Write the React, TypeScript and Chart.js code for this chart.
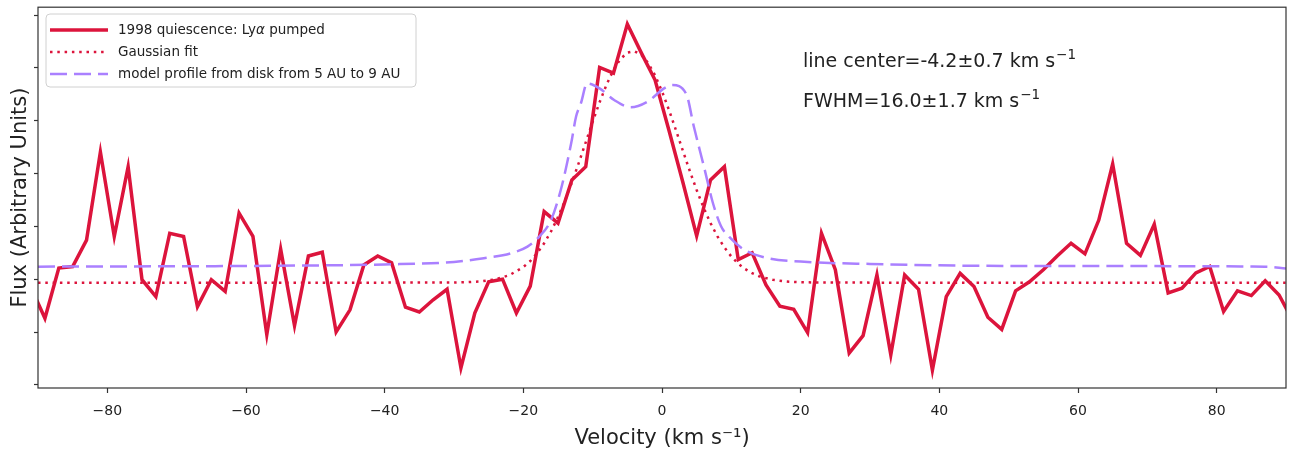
import React, { useEffect, useRef } from "react";
import { Chart, registerables } from "chart.js";

Chart.register(...registerables);

// ---- data ----
const VELOCITY = [
  -91, -89, -87, -85, -83, -81, -79, -77, -75, -73, -71, -69, -67, -65, -63, -61,
  -59, -57, -55, -53, -51, -49, -47, -45, -43, -41, -39, -37, -35, -33, -31, -29,
  -27, -25, -23, -21, -19, -17, -15, -13, -11, -9, -7, -5, -3, -1, 1, 3, 5, 7, 9,
  11, 13, 15, 17, 19, 21, 23, 25, 27, 29, 31, 33, 35, 37, 39, 41, 43, 45, 47, 49,
  51, 53, 55, 57, 59, 61, 63, 65, 67, 69, 71, 73, 75, 77, 79, 81, 83, 85, 87, 89, 91,
];
const FLUX = [
  1.84, 1.26, 2.21, 2.24, 2.74, 4.41, 2.81, 4.13, 1.99, 1.67, 2.87, 2.81, 1.48, 1.99, 1.77, 3.25,
  2.81, 0.95, 2.57, 1.12, 2.44, 2.51, 1.0, 1.42, 2.27, 2.44, 2.31, 1.47, 1.38, 1.61, 1.81, 0.32,
  1.36, 1.95, 2.0, 1.36, 1.87, 3.28, 3.06, 3.88, 4.13, 6.01, 5.9, 6.83, 6.29, 5.77, 4.82, 3.84, 2.82, 3.88, 4.13,
  2.37, 2.5, 1.89, 1.49, 1.43, 0.99, 2.87, 2.18, 0.6, 0.93, 2.08, 0.57, 2.08, 1.81, 0.28, 1.67, 2.11, 1.86, 1.28, 1.05,
  1.78, 1.95, 2.18, 2.44, 2.68, 2.48, 3.12, 4.18, 2.68, 2.45, 3.04, 1.74, 1.83, 2.12, 2.24, 1.39, 1.78, 1.69, 1.97, 1.7, 1.21,
];

const GAUSS_V = [
  -90, -40, -30, -28, -26, -24, -22,
  -20, -19, -18, -17, -16, -15, -14, -13, -12, -11, -10, -9, -8, -7, -6, -5, -4, -3, -2, -1,
  0, 1, 2, 3, 4, 5, 6, 7, 8, 9, 10, 11, 12, 13, 14,
  16, 18, 20, 22, 30, 90,
];
const GAUSS_F = [
  1.935, 1.935, 1.938, 1.945, 1.96, 1.998, 2.077,
  2.229, 2.344, 2.493, 2.679, 2.906, 3.175, 3.485, 3.831, 4.204, 4.592, 4.981, 5.351, 5.684, 5.962, 6.168, 6.289, 6.317, 6.251, 6.095, 5.859,
  5.557, 5.206, 4.826, 4.436, 4.052, 3.688, 3.356, 3.062, 2.81, 2.6, 2.429, 2.294, 2.191, 2.113, 2.056,
  1.988, 1.956, 1.943, 1.938, 1.935, 1.935,
];

const MODEL_V = [
  -90, -60, -40, -30, -25.7, -21.8, -19.4, -17.7, -16, -14.6, -13.1, -12.4, -11.7, -10.8,
  -9.0, -6.9, -4.5, -2.1, 0.3, 1.5, 3.5, 4.6, 6.1, 7.3, 8.5, 9.7, 11.9, 15.3, 20, 30, 50, 87, 90,
];
const MODEL_F = [
  2.238, 2.251, 2.28, 2.327, 2.397, 2.491, 2.616, 2.806, 3.121, 3.689, 4.572, 5.076, 5.329, 5.708,
  5.613, 5.392, 5.254, 5.359, 5.613, 5.675, 5.505, 4.887, 4.105, 3.462, 3.008, 2.8, 2.554, 2.397, 2.333, 2.289, 2.251, 2.238, 2.204,
];

const X_TICKS = [-80, -60, -40, -20, 0, 20, 40, 60, 80];
const Y_TICKS = [0, 1, 2, 3, 4, 5, 6, 7];

const SERIES_LABELS = [
  "1998 quiescence: Lyα pumped",
  "Gaussian fit",
  "model profile from disk from 5 AU to 9 AU",
];
const ANNOTATIONS = [
  ["line center=-4.2±0.7 km s", "−1"],
  ["FWHM=16.0±1.7 km s", "−1"],
];
const X_TITLE = "Velocity (km s⁻¹)";
const Y_TITLE = "Flux (Arbitrary Units)";

const FONT = '"DejaVu Sans", sans-serif';
const RED = "rgb(220,20,60)";
const PURPLE = "rgb(170,128,255)";
const TEXT = "#222";

const overlay = {
  id: "overlay",
  afterDraw(chart: any) {
    const { ctx, chartArea: a } = chart;
    ctx.save();
    // frame (spines)
    ctx.strokeStyle = "#333";
    ctx.lineWidth = 1.2;
    ctx.setLineDash([]);
    ctx.strokeRect(a.left, a.top, a.right - a.left, a.bottom - a.top);

    // legend
    const lx = 46, ly = 14, lw = 370, lh = 73, r = 4;
    ctx.beginPath();
    ctx.moveTo(lx + r, ly);
    ctx.lineTo(lx + lw - r, ly);
    ctx.quadraticCurveTo(lx + lw, ly, lx + lw, ly + r);
    ctx.lineTo(lx + lw, ly + lh - r);
    ctx.quadraticCurveTo(lx + lw, ly + lh, lx + lw - r, ly + lh);
    ctx.lineTo(lx + r, ly + lh);
    ctx.quadraticCurveTo(lx, ly + lh, lx, ly + lh - r);
    ctx.lineTo(lx, ly + r);
    ctx.quadraticCurveTo(lx, ly, lx + r, ly);
    ctx.closePath();
    ctx.fillStyle = "rgba(255,255,255,0.85)";
    ctx.fill();
    ctx.strokeStyle = "#d0d0d0";
    ctx.lineWidth = 1;
    ctx.stroke();

    const rows = [30, 52, 74];
    chart.data.datasets.forEach((ds: any, i: number) => {
      const y = rows[i];
      ctx.beginPath();
      ctx.strokeStyle = ds.borderColor;
      ctx.lineWidth = ds.borderWidth;
      ctx.setLineDash(ds.borderDash || []);
      ctx.lineCap = "butt";
      ctx.moveTo(50, y);
      ctx.lineTo(108, y);
      ctx.stroke();
      ctx.setLineDash([]);
      ctx.fillStyle = TEXT;
      ctx.textBaseline = "middle";
      const label: string = ds.label;
      const parts = label.split("α");
      let x = 118;
      parts.forEach((p, k) => {
        ctx.font = `13.5px ${FONT}`;
        ctx.fillText(p, x, y);
        x += ctx.measureText(p).width;
        if (k < parts.length - 1) {
          ctx.font = `italic 13.5px ${FONT}`;
          ctx.fillText("α", x, y);
          x += ctx.measureText("α").width;
        }
      });
    });

    // annotations
    ctx.fillStyle = TEXT;
    ctx.textBaseline = "alphabetic";
    const baselines = [67, 107];
    ANNOTATIONS.forEach(([base, sup], i) => {
      ctx.font = `19px ${FONT}`;
      ctx.fillText(base, 803, baselines[i]);
      const w = ctx.measureText(base).width;
      ctx.font = `13.5px ${FONT}`;
      ctx.fillText(sup, 803 + w + 1, baselines[i] - 8);
    });
    ctx.restore();
  },
};

export default function App() {
  const ref = useRef<HTMLCanvasElement>(null);
  useEffect(() => {
    if (!ref.current) return;
    const chart = new Chart(ref.current, {
      type: "line",
      data: {
        datasets: [
          {
            label: SERIES_LABELS[0],
            data: VELOCITY.map((v, i) => ({ x: v, y: FLUX[i] })),
            borderColor: RED,
            borderWidth: 3.5,
            pointRadius: 0,
            tension: 0,
            order: 2,
          },
          {
            label: SERIES_LABELS[1],
            data: GAUSS_V.map((v, i) => ({ x: v, y: GAUSS_F[i] })),
            borderColor: RED,
            borderWidth: 2.5,
            borderDash: [2.5, 4.8],
            pointRadius: 0,
            tension: 0,
            order: 1,
          },
          {
            label: SERIES_LABELS[2],
            data: MODEL_V.map((v, i) => ({ x: v, y: MODEL_F[i] })),
            borderColor: PURPLE,
            borderWidth: 2.5,
            borderDash: [17, 7],
            pointRadius: 0,
            cubicInterpolationMode: "monotone",
            order: 0,
          },
        ],
      },
      options: {
        responsive: false,
        devicePixelRatio: 1,
        animation: false,
        events: [],
        layout: { padding: { left: 0, right: 3, top: 7, bottom: 0 } },
        plugins: { legend: { display: false }, tooltip: { enabled: false } },
        scales: {
          x: {
            type: "linear",
            min: -90,
            max: 90,
            afterBuildTicks: (s: any) => {
              s.ticks = X_TICKS.map((v) => ({ value: v }));
            },
            afterFit: (s: any) => {
              s.height = 65;
            },
            ticks: {
              callback: (v: any) => String(v).replace("-", "\u2212"),
              font: { family: FONT, size: 14 },
              color: TEXT,
              padding: 10,
              maxRotation: 0,
              autoSkip: false,
            },
            grid: { drawOnChartArea: false, drawTicks: true, tickLength: 5, tickColor: "#333", tickWidth: 1.2 },
            border: { display: false },
            title: {
              display: true,
              text: X_TITLE,
              font: { family: FONT, size: 21 },
              color: TEXT,
              padding: { top: 0, bottom: 2 },
            },
          },
          y: {
            type: "linear",
            min: -0.06,
            max: 7.15,
            afterBuildTicks: (s: any) => {
              s.ticks = Y_TICKS.map((v) => ({ value: v }));
            },
            afterFit: (s: any) => {
              s.width = 38;
            },
            ticks: { callback: () => "", padding: 0 },
            grid: { drawOnChartArea: false, drawTicks: true, tickLength: 4, tickColor: "#333", tickWidth: 1.2 },
            border: { display: false },
            title: {
              display: true,
              text: Y_TITLE,
              font: { family: FONT, size: 21 },
              color: TEXT,
              padding: { top: 8, bottom: 0 },
            },
          },
        },
      },
      plugins: [overlay],
    } as any);
    return () => chart.destroy();
  }, []);
  return (
    <div style={{ position: "absolute", left: 0, top: 0, width: 1289, height: 453, background: "#fff" }}>
      <canvas ref={ref} width={1289} height={453} style={{ display: "block", width: 1289, height: 453 }} />
    </div>
  );
}
